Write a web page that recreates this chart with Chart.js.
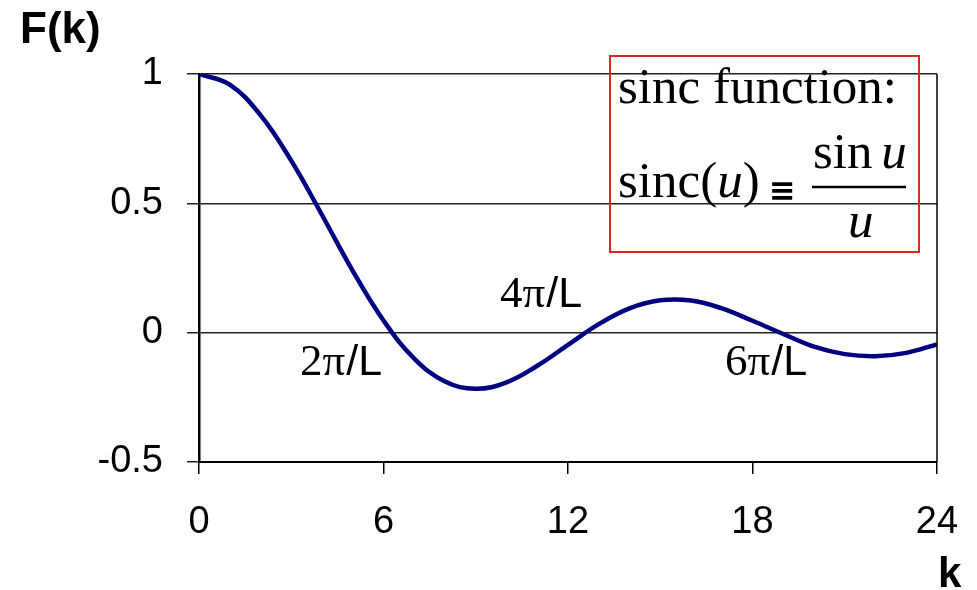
<!DOCTYPE html>
<html>
<head>
<meta charset="utf-8">
<script src="https://cdn.jsdelivr.net/npm/chart.js@4/dist/chart.umd.min.js"></script>
<style>
    html, body { margin: 0; padding: 0; background: #fff; }
    #wrap { width: 977px; height: 590px; position: relative; }
</style>
</head>
<body>
<div id="wrap"><canvas id="chart" width="977" height="590"></canvas></div>
<script>
const K_VALUES = [0, 1, 2, 3, 4, 5, 6, 7, 8, 9, 10, 11, 12, 13, 14, 15, 16, 17, 18, 19, 20, 21, 22, 23, 24];
const F_VALUES = [1, 0.959, 0.841, 0.665, 0.455, 0.239, 0.047, -0.100, -0.189, -0.217, -0.192, -0.128, -0.047,
    0.033, 0.094, 0.125, 0.124, 0.094, 0.046, -0.005, -0.054, -0.083, -0.091, -0.078, -0.045];
const X_TICKS = [0, 6, 12, 18, 24];
const Y_TICKS = [-0.5, 0, 0.5, 1];
const ZERO_LABELS = [
    { lead: '2π', tail: '/L', x: 300, y: 375 },
    { lead: '4π', tail: '/L', x: 500, y: 307 },
    { lead: '6π', tail: '/L', x: 725, y: 375 },
];

const SANS = '"Liberation Sans", Arial, sans-serif';
const SERIF = '"Liberation Serif", "Times New Roman", serif';

const overlay = {
    id: 'overlay',
    afterDraw(chart) {
        const { ctx, chartArea } = chart;
        ctx.save();

        // right border of the plot box
        ctx.strokeStyle = '#000';
        ctx.lineWidth = 1.5;
        ctx.beginPath();
        ctx.moveTo(chartArea.right, chartArea.top);
        ctx.lineTo(chartArea.right, chartArea.bottom);
        ctx.stroke();

        // axis titles
        ctx.fillStyle = '#000';
        ctx.textBaseline = 'alphabetic';
        ctx.font = 'bold 44px ' + SANS;
        ctx.textAlign = 'left';
        ctx.fillText('F(k)', 20, 43);
        ctx.font = 'bold 42px ' + SANS;
        ctx.fillText('k', 938, 587);

        // zero crossing labels
        ZERO_LABELS.forEach(l => {
            ctx.font = '45px ' + SERIF;
            ctx.fillText(l.lead, l.x, l.y);
            const w = ctx.measureText(l.lead).width;
            ctx.font = '43px ' + SANS;
            ctx.fillText(l.tail, l.x + w + 1, l.y);
        });

        // formula box
        ctx.strokeStyle = '#e0261b';
        ctx.lineWidth = 2;
        ctx.strokeRect(610, 56, 309, 196);

        ctx.font = '51px ' + SERIF;
        ctx.fillText('sinc function:', 618, 103);

        let x = 618;
        const put = (t, font) => {
            ctx.font = font;
            ctx.fillText(t, x, 197);
            x += ctx.measureText(t).width;
        };
        put('sinc(', '51px ' + SERIF);
        put('u', 'italic 51px ' + SERIF);
        put(')', '51px ' + SERIF);
        ctx.font = 'bold 32px "DejaVu Sans", sans-serif';
        ctx.fillText('≡', 769, 201);

        ctx.font = '51px ' + SERIF;
        ctx.fillText('sin', 813, 168);
        const sw = ctx.measureText('sin ').width;
        ctx.font = 'italic 51px ' + SERIF;
        ctx.fillText('u', 813 + sw - 4, 168);
        ctx.fillText('u', 848, 237);

        ctx.strokeStyle = '#000';
        ctx.lineWidth = 2.5;
        ctx.beginPath();
        ctx.moveTo(812, 187);
        ctx.lineTo(906, 187);
        ctx.stroke();

        ctx.restore();
    }
};

new Chart(document.getElementById('chart'), {
    type: 'line',
    data: {
        datasets: [{
            data: K_VALUES.map((k, i) => ({ x: k, y: F_VALUES[i] })),
            borderColor: '#000080',
            borderWidth: 4.5,
            pointRadius: 0,
            tension: 0.4,
            fill: false,
        }],
    },
    options: {
        responsive: false,
        animation: false,
        layout: { padding: { left: 0, top: 74, right: 40, bottom: 0 } },
        plugins: { legend: { display: false }, tooltip: { enabled: false } },
        scales: {
            x: {
                type: 'linear',
                min: 0,
                max: 24,
                afterBuildTicks: s => { s.ticks = X_TICKS.map(v => ({ value: v })); },
                afterFit: s => { s.height = 128; s.paddingLeft = 0; s.paddingRight = 0; },
                grid: { drawOnChartArea: false, color: '#000', lineWidth: 1.5, tickLength: 12 },
                border: { color: '#000', width: 2 },
                ticks: { color: '#000', font: { family: SANS, size: 38 }, padding: 26, maxRotation: 0,
                    callback: v => String(v) },
            },
            y: {
                min: -0.5,
                max: 1,
                afterBuildTicks: s => { s.ticks = Y_TICKS.map(v => ({ value: v })); },
                afterFit: s => { s.width = 199; s.paddingTop = 0; s.paddingBottom = 0; },
                grid: { color: '#222', lineWidth: 1.5, tickLength: 12 },
                border: { color: '#000', width: 2.5 },
                ticks: { color: '#000', font: { family: SANS, size: 38 }, padding: 24,
                    callback: v => String(v) },
            },
        },
    },
    plugins: [overlay],
});
</script>
</body>
</html>
